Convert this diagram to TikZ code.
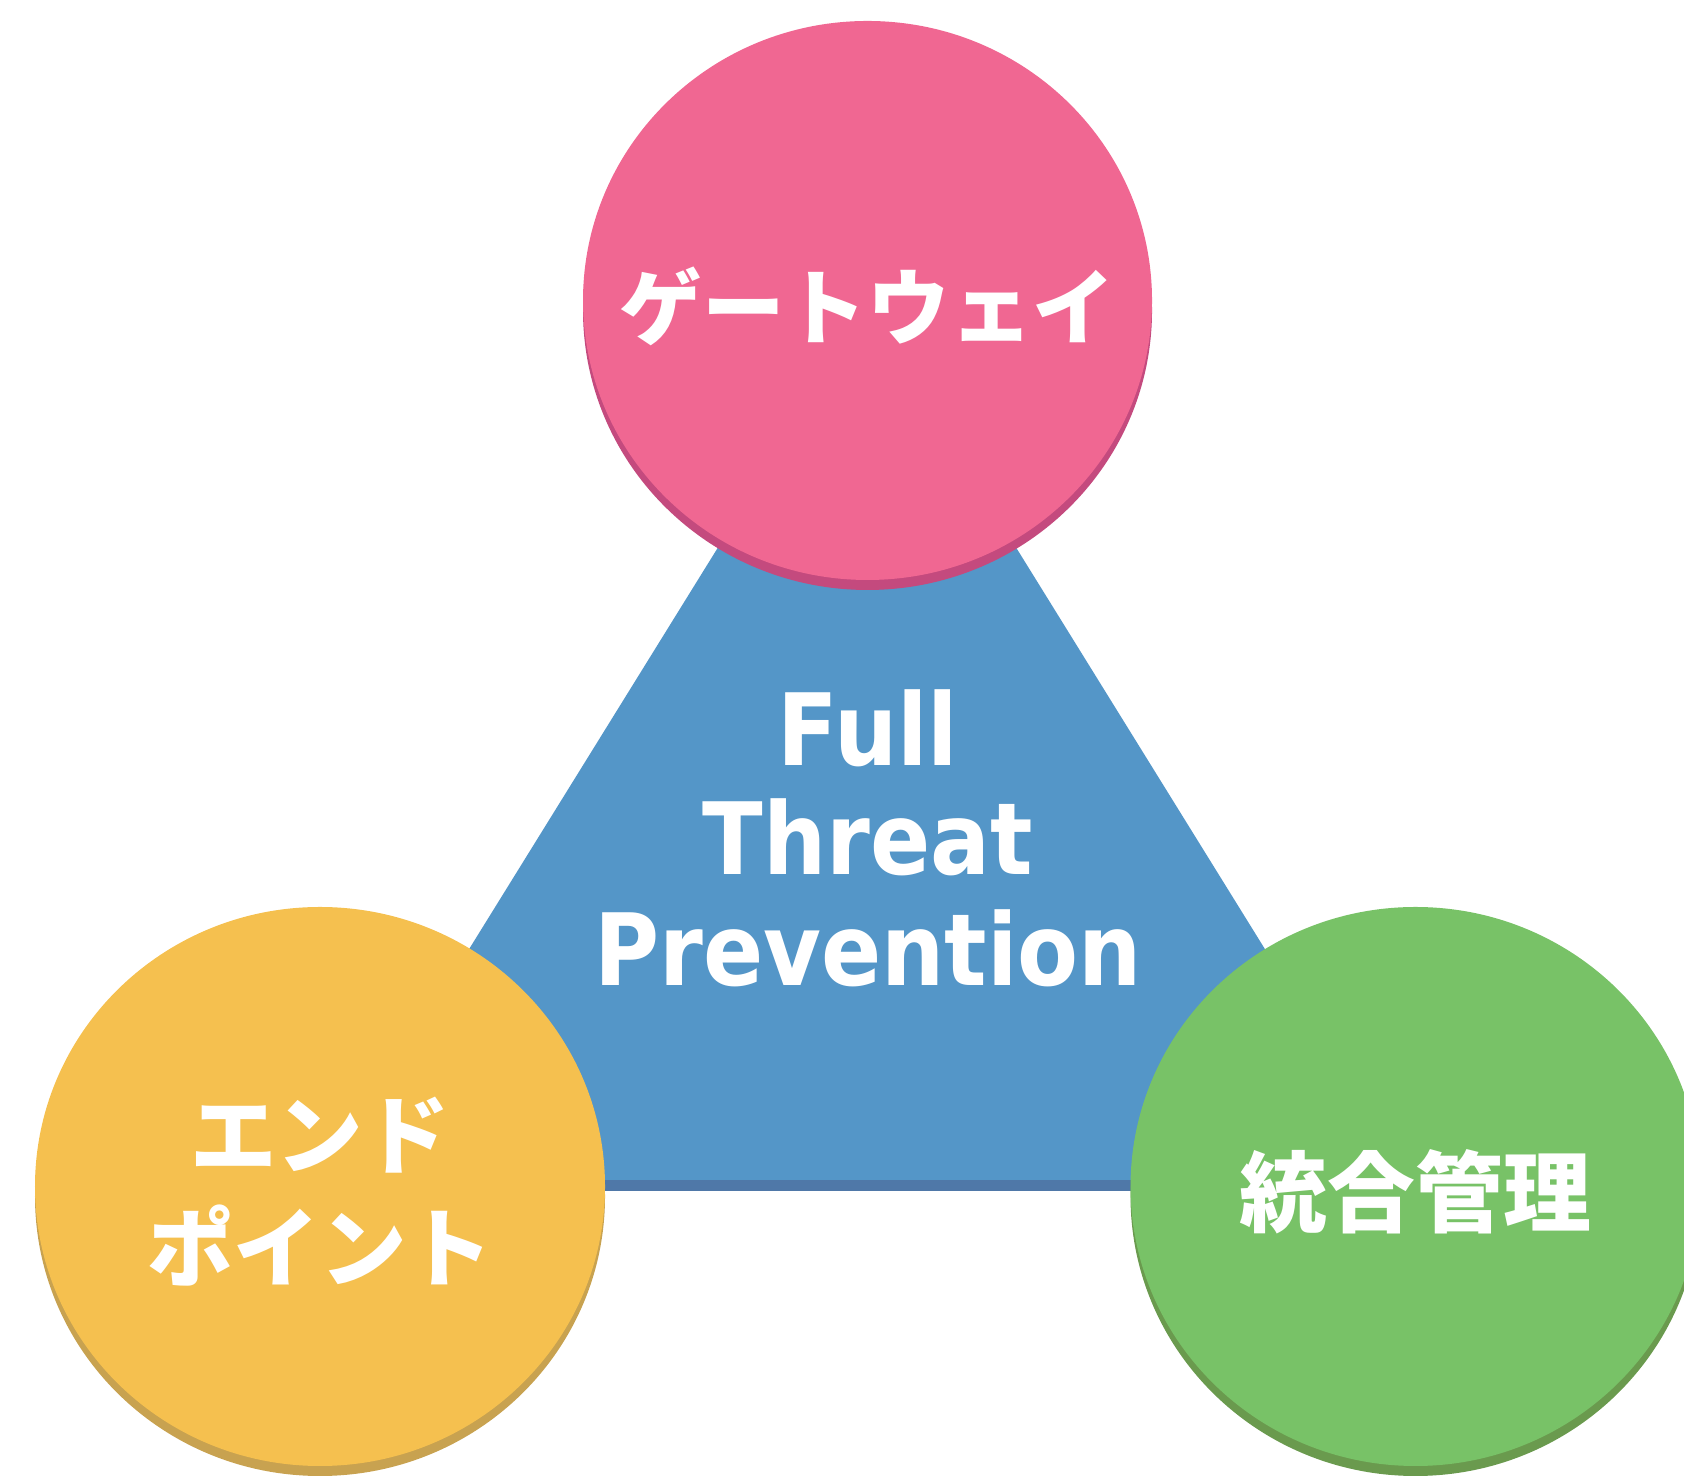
\documentclass[tikz,border=0pt]{standalone}
\usepackage{fontspec}
\newfontfamily\enfont{DejaVu Sans}[FakeStretch=0.89]
\newfontfamily\jpfont{Noto Sans CJK JP}
\usepackage{tikz}

\definecolor{gatepink}{HTML}{F06792}
\definecolor{gateshade}{HTML}{C44A7E}
\definecolor{threatblue}{HTML}{5496C8}
\definecolor{threatshade}{HTML}{4F78A8}
\definecolor{endyellow}{HTML}{F5C04F}
\definecolor{endshade}{HTML}{C8A250}
\definecolor{mgmtgreen}{HTML}{78C267}
\definecolor{mgmtshade}{HTML}{6A9A4E}

\tikzset{
	jplabel/.style={text=white,inner sep=0pt,font=\jpfont\bfseries\fontsize{23.5}{28}\selectfont},
	enlabel/.style={text=white,inner sep=0pt,anchor=base,font=\enfont\bfseries\fontsize{28.4}{31}\selectfont}
}

\begin{document}
\begin{tikzpicture}
	\useasboundingbox (0,0) rectangle (16.84,14.79);
	\clip (0,0) rectangle (16.84,14.79);

	%Triangle in the middle
	\fill [threatshade] (8.67,11.61) -- (3.26,2.88) -- (14.08,2.88) -- cycle;
	\fill [threatblue] (8.67,11.72) -- (3.26,2.99) -- (14.08,2.99) -- cycle;

	%Circle at the top
	\fill [gateshade] (8.675,11.685) ellipse (2.845 and 2.795);
	\fill [gatepink] (8.675,11.785) ellipse (2.845 and 2.795);
	%Circle at the left
	\fill [endshade] (3.20,2.825) ellipse (2.85 and 2.795);
	\fill [endyellow] (3.20,2.925) ellipse (2.85 and 2.795);
	%Circle at the right
	\fill [mgmtshade] (14.155,2.825) ellipse (2.85 and 2.795);
	\fill [mgmtgreen] (14.155,2.925) ellipse (2.85 and 2.795);

	%Labels
	\node [jplabel] (gateway) at (8.675,11.73) {ゲートウェイ};
	\node [jplabel,font=\jpfont\bfseries\fontsize{24.6}{29}\selectfont] (endpoint1) at (3.20,3.44) {エンド};
	\node [jplabel,font=\jpfont\bfseries\fontsize{24.6}{29}\selectfont] (endpoint2) at (3.20,2.33) {ポイント};
	\node [jplabel,font=\jpfont\bfseries\fontsize{25}{30}\selectfont] (management) at (14.155,2.87) {統合管理};

	\node [enlabel] (full) at (8.68,7.13) {Full};
	\node [enlabel] (threat) at (8.68,6.04) {Threat};
	\node [enlabel] (prevention) at (8.68,4.93) {Prevention};
\end{tikzpicture}
\end{document}
